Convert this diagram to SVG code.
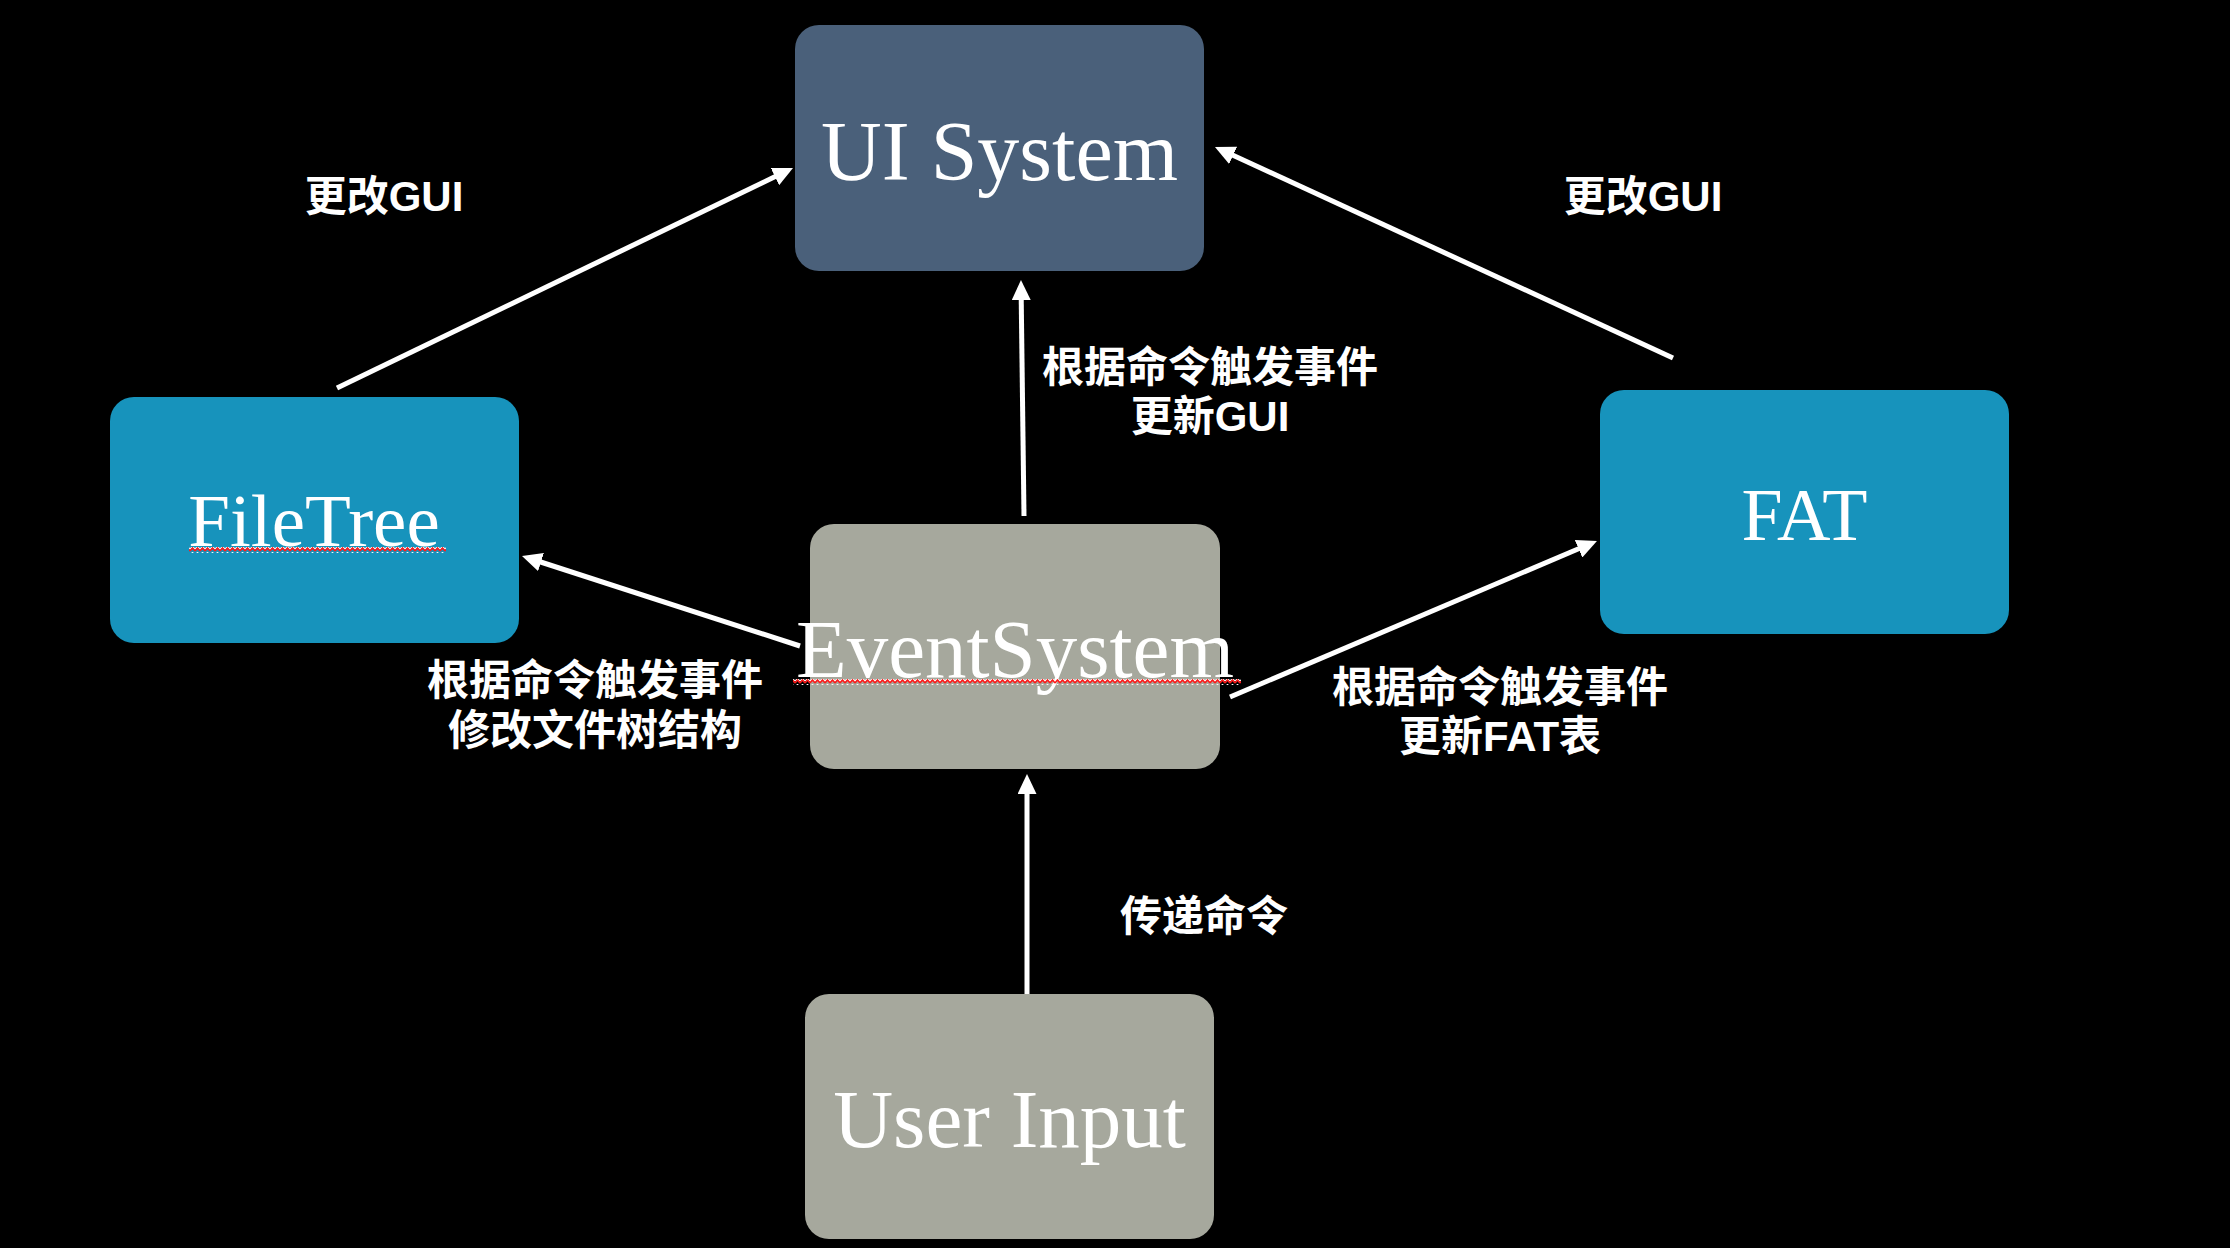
<svg xmlns="http://www.w3.org/2000/svg" width="2230" height="1248" viewBox="0 0 2230 1248">
<style>
.node-text{font-family:"Liberation Serif","Times New Roman",serif;fill:#ffffff;text-anchor:middle}
.lbl{font-family:"Liberation Sans","Noto Sans CJK SC",sans-serif;font-weight:bold;font-size:42px;fill:#ffffff;text-anchor:middle}
.conn{stroke:#ffffff;stroke-width:5;fill:none;marker-end:url(#arrow)}
</style>
<defs>
<marker id="arrow" markerUnits="userSpaceOnUse" markerWidth="20" markerHeight="19" refX="2" refY="9.5" orient="auto">
<path d="M0,0 L20,9.5 L0,19 z" fill="#ffffff"/>
</marker>
<pattern id="squiggle" patternUnits="userSpaceOnUse" x="0" y="0" width="5" height="6">
<path d="M0,3 L2.5,0.5 L5,3" stroke="#ffffff" stroke-width="1.2" fill="none"/>
<path d="M0,5 L2.5,2 L5,5" stroke="#ff1a1a" stroke-width="1.6" fill="none"/>
</pattern>
</defs>
<rect x="0" y="0" width="2230" height="1248" fill="#000000"/>
<g id="connectors">
<line class="conn" x1="337" y1="388" x2="776.8" y2="175.8"/>
<line class="conn" x1="1673" y1="358" x2="1231.3" y2="154.5"/>
<line class="conn" x1="1024" y1="516" x2="1021.2" y2="298"/>
<line class="conn" x1="800" y1="646" x2="539.1" y2="561.5"/>
<line class="conn" x1="1230" y1="697" x2="1580.4" y2="548"/>
<line class="conn" x1="1027" y1="994" x2="1027" y2="792"/>
</g>
<g id="ui-system">
<rect x="795" y="25" width="409" height="246" rx="24" fill="#4a607a"/>
<text class="node-text" x="999.5" y="180" font-size="84">UI System</text>
</g>
<g id="filetree">
<rect x="110" y="397" width="409" height="246" rx="24" fill="#1793bc"/>
<text class="node-text" x="314" y="546" font-size="75">FileTree</text>
<rect x="189" y="547" width="257" height="6" fill="url(#squiggle)"/>
</g>
<g id="fat">
<rect x="1600" y="390" width="409" height="244" rx="24" fill="#1793bc"/>
<text class="node-text" x="1804.5" y="540" font-size="74">FAT</text>
</g>
<g id="eventsystem">
<rect x="810" y="524" width="410" height="245" rx="24" fill="#a6a89d"/>
<text class="node-text" x="1015" y="677" font-size="83">EventSystem</text>
<rect x="793" y="679" width="448" height="6" fill="url(#squiggle)"/>
</g>
<g id="user-input">
<rect x="805" y="994" width="409" height="245" rx="24" fill="#a6a89d"/>
<text class="node-text" x="1009.5" y="1147" font-size="83">User Input</text>
</g>
<g id="labels">
<text class="lbl" x="384" y="211" font-size="41">更改GUI</text>
<text class="lbl" x="1643" y="211" font-size="41">更改GUI</text>
<text class="lbl" x="1210" y="382">根据命令触发事件</text>
<text class="lbl" x="1210" y="431">更新GUI</text>
<text class="lbl" x="595" y="695">根据命令触发事件</text>
<text class="lbl" x="595" y="745">修改文件树结构</text>
<text class="lbl" x="1500" y="702">根据命令触发事件</text>
<text class="lbl" x="1500" y="751">更新FAT表</text>
<text class="lbl" x="1204" y="931">传递命令</text>
</g>
</svg>
